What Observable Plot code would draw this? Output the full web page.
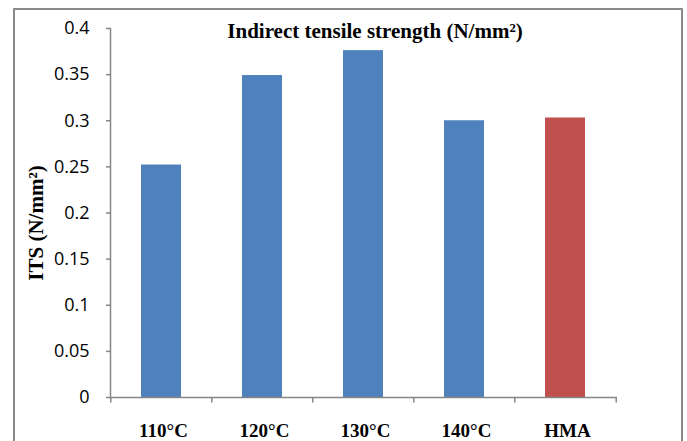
<!DOCTYPE html>
<html>
<head>
<meta charset="utf-8">
<script src="https://cdn.jsdelivr.net/npm/d3@7"></script>
<script src="https://cdn.jsdelivr.net/npm/@observablehq/plot@0.6"></script>
<style>
  html, body { margin: 0; padding: 0; background: #fff; }
  #wrap { position: relative; width: 687px; height: 441px; overflow: hidden; }
  #border { position: absolute; left: 13px; top: 8px; width: 670px; height: 460px; border: 2px solid #8a8a8a; box-sizing: border-box; }
  #title { position: absolute; left: 0; width: 750px; top: 19px; text-align: center; font: bold 21px "Liberation Serif", "Times New Roman", serif; line-height: 24px; color: #000; white-space: nowrap; }
  #ylabel { position: absolute; left: 36px; top: 223px; transform: translate(-50%, -50%) rotate(-90deg); font: bold 21px "Liberation Serif", "Times New Roman", serif; line-height: 24px; color: #000; white-space: nowrap; }
  #chart { position: absolute; left: 0; top: 0; }
</style>
</head>
<body>
<div id="wrap">
  <div id="border"></div>
  <div id="chart"></div>
  <div id="title">Indirect tensile strength (N/mm²)</div>
  <div id="ylabel">ITS (N/mm²)</div>
</div>
<script>
const categories = ["110°C", "120°C", "130°C", "140°C", "HMA"];
const itsValues = [0.252, 0.349, 0.376, 0.300, 0.303];
const barColors = ["#4F81BD", "#4F81BD", "#4F81BD", "#4F81BD", "#C0504D"];
const yTicks = [0, 0.05, 0.1, 0.15, 0.2, 0.25, 0.3, 0.35, 0.4];

const data = categories.map((c, i) => ({cat: c, val: itsValues[i], color: barColors[i]}));

const W = 687, H = 441;
const mL = 110, mR = 70, mT = 28, mB = 44;
const step = (W - mL - mR) / categories.length;

const plot = Plot.plot({
  width: W,
  height: H,
  marginLeft: mL,
  marginRight: mR,
  marginTop: mT,
  marginBottom: mB,
  style: {background: "transparent", overflow: "visible"},
  x: {domain: categories, paddingInner: 0.6, paddingOuter: 0.3, axis: null},
  y: {domain: [0, 0.4], axis: null},
  marks: [
    Plot.barY(data, {x: "cat", y: "val", fill: d => d.color}),
    Plot.axisY({ticks: yTicks, tickSize: 4, tickPadding: 17, stroke: "#868686", strokeWidth: 1.5,
      tickFormat: d => String(d), fontSize: 18, fontFamily: "'Open Sans', 'Noto Sans', sans-serif", fill: "#000", label: null}),
    Plot.frame({anchor: "left", stroke: "#868686", strokeWidth: 1.5}),
    Plot.ruleY([0], {stroke: "#868686", strokeWidth: 1.5}),
    Plot.ruleX(categories, {x: d => d, dx: -step / 2, y1: 0, y2: -0.006, stroke: "#868686", strokeWidth: 1.5}),
    Plot.ruleX([categories[categories.length - 1]], {x: d => d, dx: step / 2, y1: 0, y2: -0.006, stroke: "#868686", strokeWidth: 1.5}),
    Plot.axisX({tickSize: 0, tickPadding: 26, fontSize: 19, fontWeight: "bold",
      fontFamily: "'Liberation Serif', 'Times New Roman', serif", fill: "#000", label: null, dx: 2})
  ]
});
document.getElementById("chart").appendChild(plot);
</script>
</body>
</html>
